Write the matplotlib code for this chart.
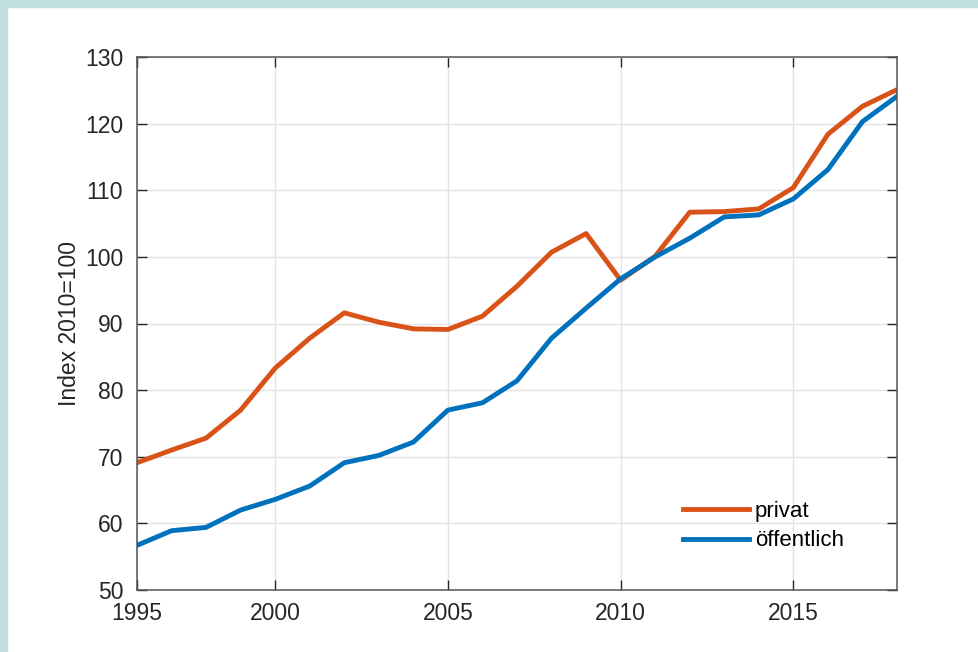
import matplotlib
matplotlib.use("Agg")
import matplotlib.pyplot as plt
from matplotlib.patches import Rectangle

# Index values (2010=100)
years = list(range(1996, 2019))
privat = [69.1, 71.0, 72.8, 77.0, 83.3, 87.8, 91.6, 90.2, 89.2, 89.1, 91.1,
          95.6, 100.7, 103.5, 96.5, 100.1, 106.7, 106.8, 107.2, 110.4, 118.4,
          122.6, 125.1]
oeffentlich = [56.7, 58.9, 59.4, 62.0, 63.6, 65.6, 69.1, 70.2, 72.2, 77.0, 78.1,
               81.4, 87.8, 92.3, 96.7, 100.0, 102.8, 106.0, 106.3, 108.7, 113.1,
               120.3, 124.1]
xtick_pos = [1996, 2000, 2005, 2010, 2015]
xtick_labels = ["1995", "2000", "2005", "2010", "2015"]
yticks = list(range(50, 131, 10))

plt.rcParams['font.family'] = ['Liberation Sans', 'DejaVu Sans']

fig = plt.figure(figsize=(9.79, 6.52), dpi=100)
fig.patch.set_facecolor('white')

# teal frame on top and left edge
teal = '#bfdedc'
fig.patches.append(Rectangle((0, 0), 7 / 979, 1, transform=fig.transFigure,
                             color=teal, zorder=0))
fig.patches.append(Rectangle((0, 1 - 7 / 652), 1, 7 / 652, transform=fig.transFigure,
                             color=teal, zorder=0))

ax = fig.add_axes([137 / 979, 62 / 652, 760 / 979, 533 / 652])

ax.plot(years, privat, color='#D95319', lw=3.5, label='privat')
ax.plot(years, oeffentlich, color='#0072BD', lw=3.5, label='öffentlich')

ax.set_xlim(1996, 2018)
ax.set_ylim(50, 130)
ax.set_xticks(xtick_pos)
ax.set_xticklabels(xtick_labels)
ax.set_yticks(yticks)

ax.grid(True, color='#e3e3e3', lw=1)
ax.set_axisbelow(True)

for s in ax.spines.values():
    s.set_color('#555555')
    s.set_linewidth(1.1)

ax.tick_params(direction='in', length=7, width=1, color='#262626',
               top=True, right=True, labelsize=16.5, labelcolor='#262626')
ax.tick_params(axis='x', pad=9)
ax.tick_params(axis='y', pad=10)

ax.set_ylabel('Index 2010=100', fontsize=16.5, color='#262626', labelpad=3)

ax.legend(loc='center left', bbox_to_anchor=(0.718, 0.12), frameon=False,
          fontsize=16, handlelength=3.0, handletextpad=0.25, labelspacing=0.4,
          borderpad=0, borderaxespad=0)

fig.savefig('out.png', dpi=100, facecolor='white')
